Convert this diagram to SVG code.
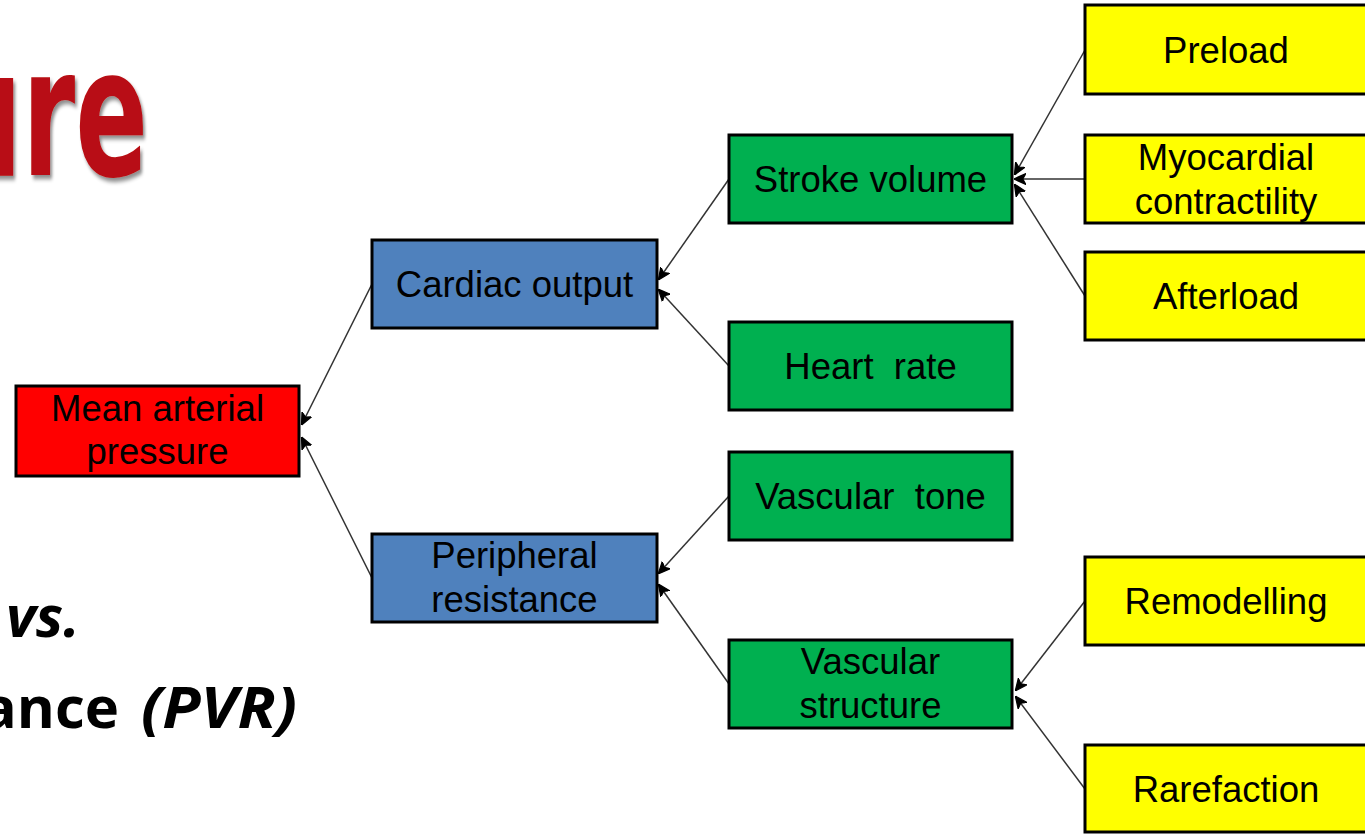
<svg xmlns="http://www.w3.org/2000/svg" width="1365" height="834" viewBox="0 0 1365 834">
<defs>
<style>
.box{stroke:#000;stroke-width:3}
.red{fill:#FF0000}.blue{fill:#4F81BD}.green{fill:#00B050}.yellow{fill:#FFFF00}
.t{font-family:"Liberation Sans",Arial,sans-serif;font-size:36.5px;fill:#000;text-anchor:middle}
.c{stroke:#333;stroke-width:1.5;fill:none;marker-end:url(#ah)}
.big{font-family:"Open Sans","DejaVu Sans",sans-serif;font-weight:bold;font-size:58px;fill:#000}
</style>
<marker id="ah" viewBox="0 0 10 10" refX="9" refY="5" markerWidth="12" markerHeight="12" markerUnits="userSpaceOnUse" orient="auto">
<path d="M0,0.5 L10,5 L0,9.5 L2.5,5 z" fill="#000" stroke="#000" stroke-width="1"/>
</marker>
<filter id="sh" x="-20%" y="-20%" width="140%" height="140%">
<feDropShadow dx="3" dy="4" stdDeviation="2" flood-color="#000" flood-opacity="0.45"/>
</filter>
</defs>
<rect width="1365" height="834" fill="#fff"/>
<g id="title">
<text transform="translate(148,175) scale(0.67,1)" text-anchor="end" font-family="'DejaVu Sans Condensed','DejaVu Sans',sans-serif" font-weight="bold" font-size="178" fill="#B80F12" filter="url(#sh)">ure</text>
<text class="big" x="6" y="637" font-style="italic">vs.</text>
<text class="big" x="119" y="728" text-anchor="end">ance</text>
<text class="big" x="141" y="728" font-style="italic" textLength="156" lengthAdjust="spacingAndGlyphs">(PVR)</text>
</g>
<g id="connectors">
<line class="c" x1="372" y1="284" x2="302" y2="424"/>
<line class="c" x1="372" y1="578" x2="302" y2="438"/>
<line class="c" x1="729" y1="179" x2="659" y2="279"/>
<line class="c" x1="729" y1="366" x2="659" y2="290"/>
<line class="c" x1="729" y1="496" x2="659" y2="573"/>
<line class="c" x1="729" y1="684" x2="659" y2="585"/>
<line class="c" x1="1085" y1="50" x2="1015" y2="174"/>
<line class="c" x1="1085" y1="179" x2="1015" y2="179"/>
<line class="c" x1="1085" y1="296" x2="1015" y2="185"/>
<line class="c" x1="1085" y1="601" x2="1016" y2="690"/>
<line class="c" x1="1085" y1="789" x2="1016" y2="697"/>
</g>
<g id="map"><rect class="box red" x="16" y="386" width="283" height="90"/><text class="t" x="157.5" y="421">Mean arterial</text><text class="t" x="157.5" y="464">pressure</text></g>
<g id="cardiac-output"><rect class="box blue" x="372" y="240" width="285" height="88"/><text class="t" x="514.5" y="297">Cardiac output</text></g>
<g id="peripheral-resistance"><rect class="box blue" x="372" y="534" width="285" height="88"/><text class="t" x="514.5" y="568">Peripheral</text><text class="t" x="514.5" y="612">resistance</text></g>
<g id="stroke-volume"><rect class="box green" x="729" y="135" width="283" height="88"/><text class="t" x="870.5" y="192">Stroke volume</text></g>
<g id="heart-rate"><rect class="box green" x="729" y="322" width="283" height="88"/><text class="t" x="870.5" y="379" xml:space="preserve">Heart  rate</text></g>
<g id="vascular-tone"><rect class="box green" x="729" y="452" width="283" height="88"/><text class="t" x="870.5" y="509" xml:space="preserve">Vascular  tone</text></g>
<g id="vascular-structure"><rect class="box green" x="729" y="640" width="283" height="88"/><text class="t" x="870.5" y="674">Vascular</text><text class="t" x="870.5" y="718">structure</text></g>
<g id="preload"><rect class="box yellow" x="1085" y="5" width="285" height="89"/><text class="t" x="1226" y="63">Preload</text></g>
<g id="myocardial-contractility"><rect class="box yellow" x="1085" y="135" width="285" height="88"/><text class="t" x="1226" y="170">Myocardial</text><text class="t" x="1226" y="214">contractility</text></g>
<g id="afterload"><rect class="box yellow" x="1085" y="252" width="285" height="88"/><text class="t" x="1226" y="309">Afterload</text></g>
<g id="remodelling"><rect class="box yellow" x="1085" y="557" width="285" height="88"/><text class="t" x="1226" y="614">Remodelling</text></g>
<g id="rarefaction"><rect class="box yellow" x="1085" y="745" width="285" height="87"/><text class="t" x="1226" y="802">Rarefaction</text></g>
</svg>
